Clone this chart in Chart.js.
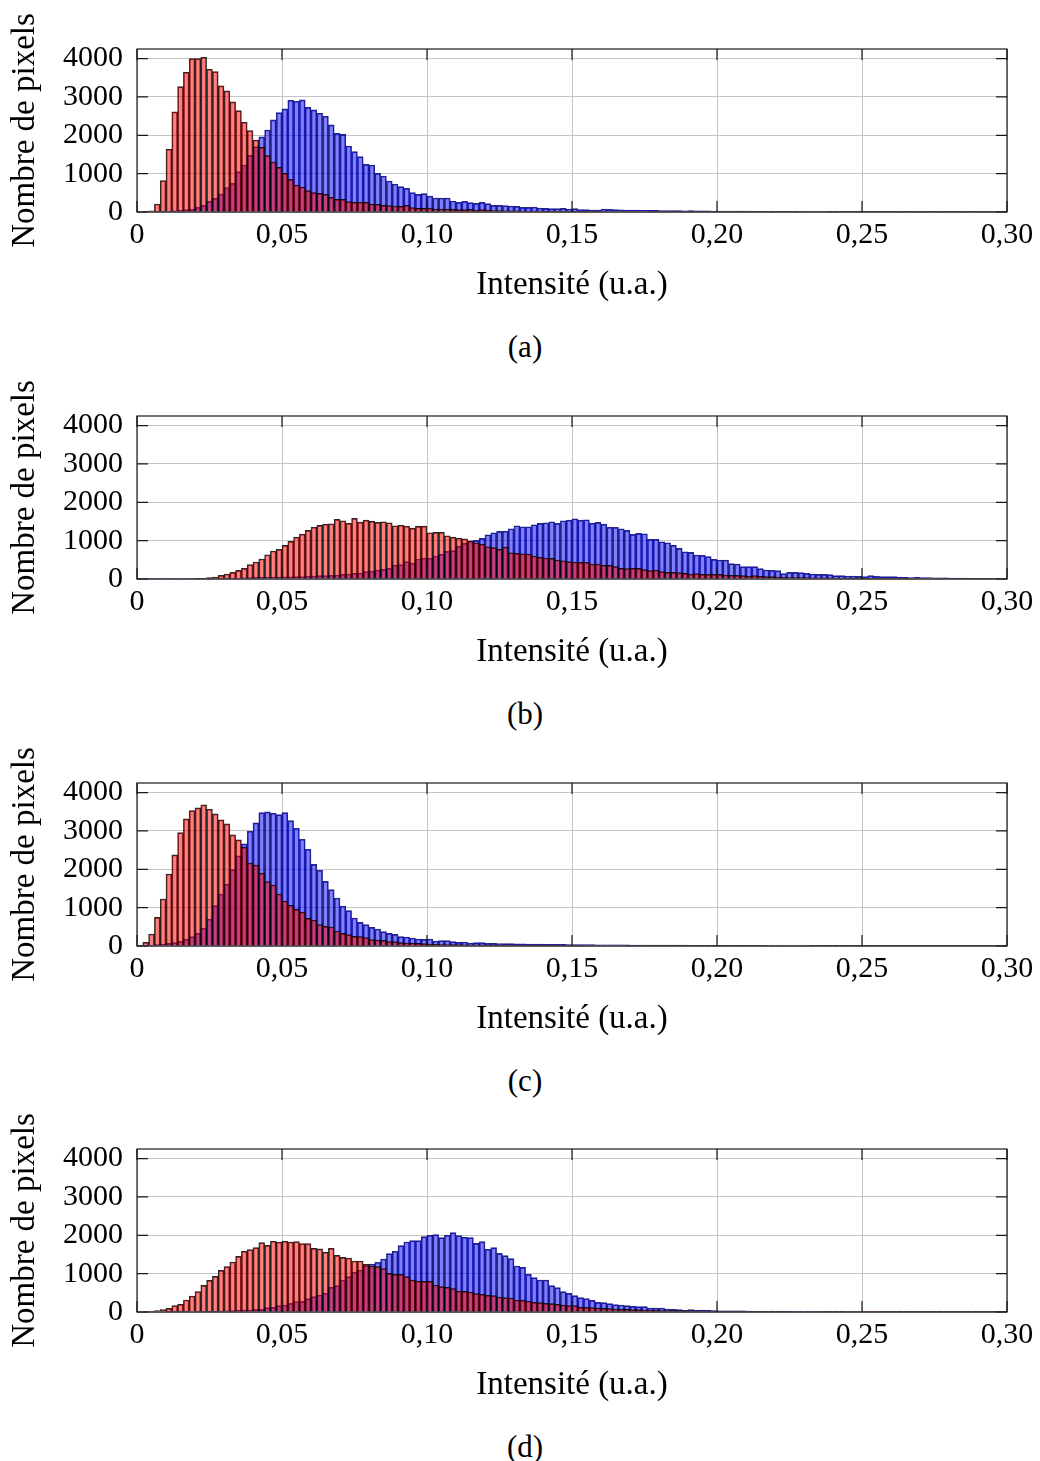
<!DOCTYPE html>
<html lang="fr">
<head>
<meta charset="utf-8">
<title>Histogrammes d'intensité</title>
<script src="https://cdn.jsdelivr.net/npm/chart.js@4.4.1/dist/chart.umd.min.js"></script>
<style>
  html, body { margin: 0; padding: 0; background: #fff; }
  #page { position: relative; width: 1040px; height: 1461px; overflow: hidden; }
  .panel { position: absolute; left: 0; width: 1040px; height: 367px; }
  .panel canvas { position: absolute; left: 0; top: 0; }
  .caption { position: absolute; left: 0; width: 1050px; top: 329px; text-align: center;
             font: 31px "Liberation Serif", serif; line-height: 36px; color: #000; }
</style>
</head>
<body>
<div id="page"></div>
<script>
// -------- histogrammes : 150 classes de 0,002 entre 0 et 0,30 --------
const binWidth = 0.002;
const nBins = 150;
const binCenters = [];
for (let i = 0; i < nBins; i++) binCenters.push(+(binWidth * (i + 0.5)).toFixed(4));

const xTicks = [0, 0.05, 0.10, 0.15, 0.20, 0.25, 0.30];
const xTickLabels = ['0', '0,05', '0,10', '0,15', '0,20', '0,25', '0,30'];
const yTicks = [0, 1000, 2000, 3000, 4000];
const yTickLabels = ['0', '1000', '2000', '3000', '4000'];
const yMax = 4250;
const xTitle = 'Intensité (u.a.)';
const yTitle = 'Nombre de pixels';
const captions = ['(a)', '(b)', '(c)', '(d)'];

// (a)
const redA = [
  0, 5, 30, 209, 818, 1635, 2609, 3270, 3643, 4000,
  4000, 4035, 3722, 3661, 3287, 3157, 2870, 2644, 2339, 2122,
  1878, 1687, 1470, 1304, 1165, 1009, 852, 704, 652, 556,
  504, 487, 461, 383, 330, 330, 270, 252, 261, 252,
  209, 200, 174, 165, 157, 148, 174, 113, 96, 96,
  104, 78, 78, 78, 70, 61, 61, 70, 43, 61,
  43, 38, 35, 33, 30, 30, 28, 26, 25, 24,
  22, 21, 20, 20, 19, 18, 17, 16, 16, 15,
  15, 14, 14, 13, 13, 12, 12, 12, 11, 11,
  10, 10, 10, 9, 9, 9, 8, 8, 8, 8,
  7, 7, 7, 7, 6, 6, 6, 6, 6, 5,
  5, 5, 5, 5, 5, 4, 4, 4, 4, 4,
  4, 4, 3, 3, 3, 3, 3, 3, 3, 3,
  3, 2, 2, 2, 2, 2, 2, 2, 2, 2,
  2, 2, 2, 2, 1, 1, 1, 1, 1, 1
];
const blueA = [
  0, 0, 0, 5, 10, 20, 30, 43, 61, 70,
  122, 174, 278, 357, 470, 635, 748, 1052, 1226, 1478,
  1704, 1957, 2139, 2400, 2591, 2687, 2913, 2887, 2922, 2730,
  2661, 2574, 2496, 2270, 2052, 2026, 1722, 1574, 1443, 1243,
  1226, 1009, 939, 809, 730, 661, 617, 504, 461, 478,
  417, 365, 365, 365, 287, 252, 278, 243, 226, 252,
  217, 174, 174, 165, 157, 148, 122, 122, 130, 104,
  96, 87, 87, 96, 78, 87, 61, 61, 52, 52,
  78, 70, 61, 55, 52, 48, 50, 45, 42, 44,
  40, 38, 36, 35, 33, 34, 30, 29, 28, 27,
  25, 26, 24, 22, 21, 22, 20, 19, 18, 17,
  18, 16, 15, 15, 14, 13, 14, 12, 12, 11,
  11, 10, 10, 9, 9, 9, 8, 8, 8, 7,
  7, 7, 6, 6, 6, 6, 5, 5, 5, 5,
  4, 4, 4, 4, 4, 3, 3, 3, 3, 3
];

// (b)
const redB = [
  0, 0, 0, 0, 0, 0, 0, 0, 0, 0,
  5, 15, 35, 52, 95, 130, 174, 226, 278, 373,
  443, 521, 633, 729, 772, 876, 980, 1093, 1171, 1267,
  1354, 1397, 1432, 1440, 1553, 1518, 1449, 1579, 1484, 1536,
  1501, 1475, 1492, 1466, 1388, 1406, 1380, 1328, 1371, 1380,
  1206, 1215, 1215, 1128, 1093, 1067, 1050, 998, 946, 911,
  842, 816, 772, 833, 685, 668, 659, 651, 599, 564,
  547, 538, 495, 477, 451, 443, 434, 434, 390, 390,
  356, 356, 321, 278, 269, 278, 278, 243, 217, 234,
  191, 174, 174, 165, 148, 130, 139, 121, 122, 122,
  122, 104, 96, 96, 87, 78, 87, 70, 61, 61,
  52, 43, 40, 38, 36, 35, 33, 30, 30, 28,
  26, 25, 24, 22, 22, 20, 19, 18, 18, 17,
  16, 15, 15, 14, 13, 13, 12, 12, 11, 11,
  10, 10, 9, 9, 9, 8, 8, 8, 7, 7
];
const blueB = [
  5, 8, 10, 10, 10, 10, 10, 10, 10, 10,
  10, 10, 10, 12, 15, 18, 20, 25, 30, 35,
  43, 45, 48, 50, 52, 55, 58, 60, 65, 78,
  78, 87, 87, 95, 104, 121, 130, 148, 156, 191,
  208, 234, 252, 278, 364, 373, 451, 416, 521, 547,
  540, 599, 642, 720, 738, 859, 928, 980, 1007, 1059,
  1154, 1206, 1241, 1250, 1310, 1388, 1362, 1362, 1414, 1449,
  1466, 1492, 1449, 1518, 1536, 1570, 1536, 1545, 1458, 1475,
  1432, 1354, 1345, 1310, 1267, 1163, 1189, 1180, 1033, 1033,
  972, 946, 876, 798, 711, 694, 625, 616, 583, 513,
  496, 496, 400, 391, 322, 322, 322, 270, 235, 226,
  217, 139, 174, 174, 165, 148, 130, 122, 122, 113,
  87, 87, 78, 78, 70, 61, 87, 70, 61, 61,
  61, 52, 45, 40, 42, 35, 38, 30, 28, 32,
  25, 22, 25, 20, 18, 20, 15, 18, 12, 15
];

// (c)
const redC = [
  20, 96, 313, 748, 1226, 1878, 2374, 2957, 3313, 3530,
  3600, 3678, 3565, 3443, 3287, 3183, 2896, 2765, 2574, 2165,
  2113, 1896, 1678, 1591, 1357, 1174, 1061, 957, 887, 722,
  678, 557, 513, 496, 391, 330, 296, 252, 243, 217,
  165, 157, 148, 113, 113, 87, 78, 78, 70, 61,
  52, 43, 40, 38, 36, 34, 33, 31, 30, 28,
  27, 26, 25, 24, 23, 22, 21, 20, 20, 19,
  18, 18, 17, 16, 16, 15, 15, 14, 14, 13,
  13, 12, 12, 12, 11, 11, 10, 10, 10, 9,
  9, 9, 9, 8, 8, 8, 8, 7, 7, 7,
  7, 6, 6, 6, 6, 6, 5, 5, 5, 5,
  5, 5, 4, 4, 4, 4, 4, 4, 4, 3,
  3, 3, 3, 3, 3, 3, 3, 3, 2, 2,
  2, 2, 2, 2, 2, 2, 2, 2, 2, 2,
  1, 1, 1, 1, 1, 1, 1, 1, 1, 1
];
const blueC = [
  0, 5, 15, 40, 52, 70, 87, 122, 174, 243,
  330, 470, 700, 1052, 1357, 1617, 1991, 2348, 2661, 2991,
  3209, 3478, 3496, 3461, 3426, 3478, 3270, 3070, 2783, 2522,
  2130, 1974, 1687, 1470, 1252, 1044, 922, 730, 617, 557,
  487, 443, 374, 330, 304, 243, 235, 209, 183, 174,
  183, 130, 139, 139, 113, 96, 104, 78, 87, 87,
  70, 68, 65, 62, 60, 58, 55, 52, 50, 48,
  46, 45, 43, 42, 40, 38, 36, 35, 34, 33,
  32, 31, 30, 29, 28, 27, 27, 26, 25, 24,
  24, 23, 22, 22, 21, 20, 20, 19, 19, 18,
  18, 17, 17, 16, 16, 15, 15, 15, 14, 14,
  13, 13, 13, 12, 12, 12, 11, 11, 11, 10,
  10, 10, 10, 9, 9, 9, 9, 8, 8, 8,
  8, 8, 7, 7, 7, 7, 7, 6, 6, 6,
  6, 6, 6, 5, 5, 5, 5, 5, 5, 5
];

// (d)
const redD = [
  0, 5, 17, 35, 61, 96, 165, 200, 313, 417,
  530, 696, 826, 930, 1087, 1183, 1304, 1452, 1583, 1626,
  1678, 1809, 1739, 1844, 1826, 1844, 1826, 1835, 1783, 1783,
  1661, 1644, 1557, 1661, 1478, 1426, 1409, 1330, 1330, 1243,
  1200, 1183, 1130, 1009, 983, 983, 922, 835, 809, 800,
  800, 704, 661, 643, 609, 548, 539, 522, 478, 461,
  435, 426, 391, 374, 365, 313, 304, 287, 252, 243,
  226, 217, 200, 183, 165, 165, 122, 122, 113, 104,
  96, 87, 78, 70, 70, 61, 61, 52, 43, 43,
  40, 38, 36, 35, 33, 32, 30, 28, 27, 26,
  25, 24, 23, 22, 21, 20, 19, 18, 18, 17,
  16, 15, 15, 14, 13, 13, 12, 12, 11, 11,
  10, 10, 9, 9, 9, 8, 8, 8, 7, 7,
  7, 6, 6, 6, 6, 5, 5, 5, 5, 4,
  4, 4, 4, 4, 3, 3, 3, 3, 3, 3
];
const blueD = [
  0, 0, 0, 0, 0, 5, 5, 8, 10, 12,
  15, 18, 20, 22, 25, 30, 35, 43, 52, 52,
  70, 70, 113, 122, 165, 183, 226, 270, 278, 348,
  400, 443, 487, 643, 687, 835, 922, 1044, 1096, 1210,
  1252, 1296, 1383, 1522, 1583, 1730, 1826, 1861, 1861, 1965,
  2000, 2017, 1939, 2000, 2070, 1991, 1948, 1939, 1791, 1835,
  1635, 1678, 1530, 1470, 1391, 1200, 1165, 983, 896, 835,
  835, 687, 635, 530, 487, 426, 374, 348, 304, 252,
  243, 217, 191, 183, 165, 148, 139, 139, 104, 104,
  104, 78, 70, 61, 43, 61, 43, 52, 43, 35,
  33, 32, 30, 29, 28, 27, 26, 25, 24, 23,
  22, 21, 21, 20, 19, 18, 18, 17, 16, 16,
  15, 15, 14, 14, 13, 13, 12, 12, 11, 11,
  11, 10, 10, 10, 9, 9, 9, 8, 8, 8,
  8, 7, 7, 7, 7, 6, 6, 6, 6, 6
];

const panels = [
  { red: redA, blue: blueA },
  { red: redB, blue: blueB },
  { red: redC, blue: blueC },
  { red: redD, blue: blueD }
];
const panelTops = [0, 367, 734, 1100];

// cadre + graduations vers l'intérieur (style pgfplots)
const cadre = {
  id: 'cadre',
  afterDatasetsDraw(chart) {
    const { ctx, chartArea: a, scales } = chart;
    const tl = 11;
    ctx.save();
    ctx.strokeStyle = '#1a1a1a';
    ctx.lineWidth = 1.2;
    ctx.beginPath();
    xTicks.forEach(v => {
      const px = scales.x.getPixelForValue(v);
      ctx.moveTo(px, a.bottom); ctx.lineTo(px, a.bottom - tl);
      ctx.moveTo(px, a.top); ctx.lineTo(px, a.top + tl);
    });
    yTicks.forEach(v => {
      const py = scales.y.getPixelForValue(v);
      ctx.moveTo(a.left, py); ctx.lineTo(a.left + tl, py);
      ctx.moveTo(a.right, py); ctx.lineTo(a.right - tl, py);
    });
    ctx.stroke();
    ctx.strokeRect(a.left, a.top, a.right - a.left, a.bottom - a.top);
    ctx.restore();
  }
};

const page = document.getElementById('page');
const serif = '"Liberation Serif", "Times New Roman", serif';

panels.forEach((p, k) => {
  const div = document.createElement('div');
  div.className = 'panel';
  div.style.top = panelTops[k] + 'px';
  const cv = document.createElement('canvas');
  cv.width = 1040;
  cv.height = 310;
  div.appendChild(cv);
  const cap = document.createElement('div');
  cap.className = 'caption';
  cap.textContent = captions[k];
  div.appendChild(cap);
  page.appendChild(div);

  new Chart(cv, {
    type: 'bar',
    data: {
      labels: binCenters,
      datasets: [
        {
          label: 'rouge',
          data: p.red,
          backgroundColor: 'rgba(255, 0, 0, 0.5)',
          borderColor: 'rgba(0, 0, 0, 0.85)',
          borderWidth: 1
        },
        {
          label: 'bleu',
          data: p.blue,
          backgroundColor: 'rgba(0, 0, 255, 0.5)',
          borderColor: 'rgba(0, 0, 110, 0.85)',
          borderWidth: 1
        }
      ]
    },
    options: {
      responsive: false,
      animation: false,
      devicePixelRatio: 1,
      grouped: false,
      categoryPercentage: 1,
      barPercentage: 1,
      layout: { padding: { top: 49, right: 33, left: 0, bottom: 0 } },
      plugins: { legend: { display: false }, tooltip: { enabled: false } },
      scales: {
        x: {
          type: 'linear',
          min: 0,
          max: 0.3,
          offset: false,
          grid: { offset: false, color: '#c4c4c4', lineWidth: 1, drawTicks: false },
          border: { display: false },
          afterBuildTicks: s => { s.ticks = xTicks.map(v => ({ value: v })); },
          afterFit: s => { s.height = 98; },
          ticks: {
            padding: 5,
            maxRotation: 0,
            autoSkip: false,
            color: '#000',
            font: { family: serif, size: 30 },
            callback: (v, i) => xTickLabels[i]
          },
          title: {
            display: true,
            text: xTitle,
            color: '#000',
            font: { family: serif, size: 33 },
            padding: { top: 0, bottom: 5 }
          }
        },
        y: {
          min: 0,
          max: yMax,
          grid: { color: '#c4c4c4', lineWidth: 1, drawTicks: false },
          border: { display: false },
          afterBuildTicks: s => { s.ticks = yTicks.map(v => ({ value: v })); },
          afterFit: s => { s.width = 137; },
          ticks: {
            padding: 14,
            autoSkip: false,
            color: '#000',
            font: { family: serif, size: 30 },
            callback: (v, i) => yTickLabels[i]
          },
          title: {
            display: true,
            text: yTitle,
            color: '#000',
            font: { family: serif, size: 33 },
            padding: { top: 6, bottom: 0 }
          }
        }
      }
    },
    plugins: [cadre]
  });
});
</script>
</body>
</html>
